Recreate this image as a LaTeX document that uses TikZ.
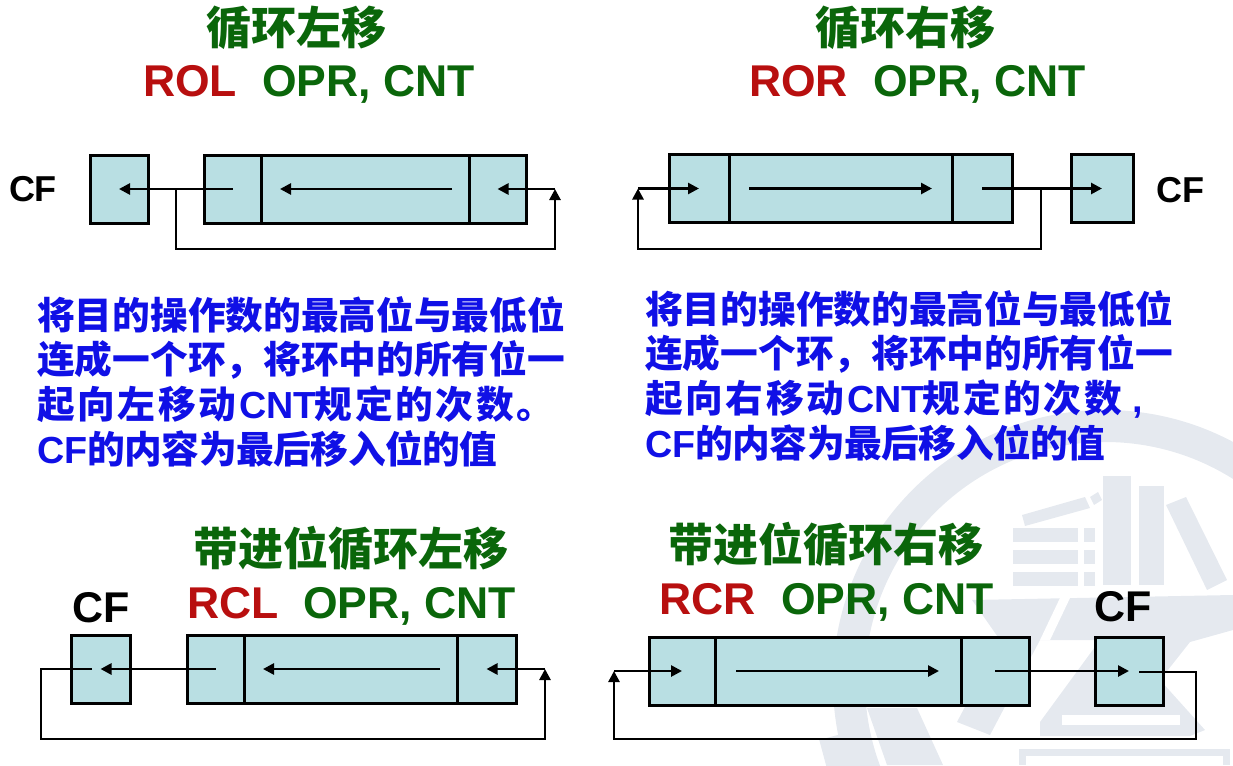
\documentclass[tikz,border=0pt]{standalone}
\usepackage{fontspec}
\setmainfont{Liberation Sans}
\newfontfamily\cjk{Noto Sans CJK SC}
\usetikzlibrary{arrows.meta}
\definecolor{cellfill}{HTML}{B9DFE3}
\definecolor{markgray}{HTML}{E5E9EF}
\definecolor{cmdred}{HTML}{B80F0F}
\definecolor{cmdgreen}{HTML}{0A660A}
\definecolor{descblue}{HTML}{1010E6}
\newcommand\widecjk[1]{{\addfontfeature{LetterSpace=7}#1}}
\newcommand\tightcjk[1]{{\addfontfeature{LetterSpace=-1.2}#1}}
\tikzset{
	cell/.style={draw=black,fill=cellfill,line width=3pt,inner sep=0pt,minimum height=68pt},
	flow/.style={line width=2.6pt,line join=miter},
	title/.style={font=\cjk\bfseries\fontsize{45}{48}\selectfont,text=cmdgreen,inner sep=0pt},
	opname/.style={font=\bfseries\fontsize{44.5}{50}\selectfont,text=cmdred,anchor=base west,inner sep=0pt},
	oprand/.style={font=\bfseries\fontsize{44.5}{50}\selectfont,text=cmdgreen,anchor=base west,inner sep=0pt},
	cflabel/.style={font=\bfseries\fontsize{36}{42}\selectfont,inner sep=0pt},
	cfbig/.style={font=\bfseries\fontsize{43}{46}\selectfont,inner sep=0pt},
	desc/.style={font=\cjk\bfseries\fontsize{37.7}{44.7}\selectfont,text=descblue,anchor=north west,align=left,inner sep=0pt},
}
\begin{document}
\begin{tikzpicture}[x=1pt,y=-1pt,line cap=butt,>={Triangle[length=11pt,width=11pt]}]
	\useasboundingbox (0,0) rectangle (1233,765);
	% watermark
	\fill[markgray,even odd rule] (1105,682) circle (272) (1105,682) circle (240);
	\foreach \a in {-165,-135,-105,-75,-45}
	\fill[markgray,rotate around={\a:(1105,682)}] (1372,664) rectangle (1396,700);
	\foreach \y in {528,550,572}{
	\fill[markgray] (1013,\y) rectangle (1078,\y+14);
	\fill[markgray] (1084,\y) rectangle (1095,\y+14);
	}
	\fill[markgray] (1103,476) rectangle (1131,585);
	\fill[markgray] (1139,486) rectangle (1164,585);
	\fill[markgray] (1166,505) -- (1186,497) -- (1227,580) -- (1207,590) -- cycle;
	\fill[markgray] (1022,515) -- (1085,497) -- (1090,508) -- (1025,526) -- cycle;
	\fill[markgray] (1090,497) -- (1098,492) -- (1102,500) -- (1094,505) -- cycle;
	\fill[markgray] (972,600) -- (1233,595) -- (1233,630) -- (1190,642) -- (1160,680) -- (1205,730) -- (1190,736) -- (1040,736) -- (1040,722) -- (1100,640) -- (1040,640) -- (990,735) -- (957,722) -- (1000,640) -- cycle;
	\fill[markgray] (867,708) -- (917,708) -- (943,765) -- (887,765) -- cycle;
	\draw[markgray,line width=7pt] (1022,765) -- (1022,752) -- (1226,752) -- (1226,765);
	\fill[white] (1062,715) rectangle (1180,725);
	\fill[white] (1040,640) -- (1060,598) -- (1070,598) -- (1050,640) -- cycle;
	% ROL
	\node[title] (titlea) at (296,28) {循环左移};
	\node[opname] (opa) at (143,97) {ROL};
	\node[oprand] (oprla) at (262,97) {OPR, CNT};
	\node[cflabel] (cflabela) at (33,189) {CF};
	\node[cell,minimum width=58pt] (cfa) at (119,189) {};
	\node[cell,minimum width=57pt] (lowa) at (232.5,189) {};
	\node[cell,minimum width=208pt] (mida) at (365,189) {};
	\node[cell,minimum width=57pt] (higha) at (497.5,189) {};
	\coordinate (mra) at (452,189);
	\coordinate (mla) at (280,189);
	\coordinate (ta) at (176,189);
	\coordinate (ba) at (555,249);
	\coordinate (ra) at (555,189);
	\draw[flow,->] (lowa.center) -- (cfa.center);
	\draw[flow,->] (mra) -- (mla);
	\draw[flow,->] (ra) -- (higha.center);
	\draw[flow,->] (ta) |- (ba) -- (ra);
	\node[desc] (desca) at (37,296) {将目的操作数的最高位与最低位\\连成一个环，将环中的所有位一\\\widecjk{起向左移动}\hspace{3pt}{\rmfamily CNT}\hspace{-2pt}\widecjk{规定的次数。}\\{\rmfamily CF}\tightcjk{的内容为最后移入位的值}};
	% ROR
	\node[title] (titleb) at (905,28) {循环右移};
	\node[opname] (opb) at (749,97) {ROR};
	\node[oprand] (oprlb) at (873,97) {OPR, CNT};
	\node[cflabel] (cflabelb) at (1180,190) {CF};
	\node[cell,minimum width=60pt] (highb) at (699,188.5) {};
	\node[cell,minimum width=223pt] (midb) at (840.5,188.5) {};
	\node[cell,minimum width=60pt] (lowb) at (982,188.5) {};
	\node[cell,minimum width=62pt] (cfb) at (1102,188.5) {};
	\coordinate (lb) at (638,188.5);
	\coordinate (bb) at (638,249);
	\coordinate (tb) at (1041,188.5);
	\coordinate (mlb) at (749,188.5);
	\coordinate (mrb) at (932,188.5);
	\draw[flow,->] (lb) -- (highb.center);
	\draw[flow,->] (mlb) -- (mrb);
	\draw[flow,->] (lowb.center) -- (cfb.center);
	\draw[flow,->] (tb) |- (bb) -- (lb);
	\node[desc] (descb) at (645,290) {将目的操作数的最高位与最低位\\连成一个环，将环中的所有位一\\\widecjk{起向右移动}\hspace{3pt}{\rmfamily CNT}\hspace{-2pt}\widecjk{规定的次数}{\rmfamily\ ,}\\{\rmfamily CF}\tightcjk{的内容为最后移入位的值}};
	% RCL
	\node[title] (titlec) at (351,548) {带进位循环左移};
	\node[opname] (opc) at (187,618) {RCL};
	\node[oprand] (oprlc) at (303,618) {OPR, CNT};
	\node[cfbig] (cflabelc) at (101,608) {CF};
	\node[cell,minimum width=59pt] (cfc) at (100.5,669) {};
	\node[cell,minimum width=57pt] (lowc) at (215.5,669) {};
	\node[cell,minimum width=213pt] (midc) at (350.5,669) {};
	\node[cell,minimum width=59pt] (highc) at (486.5,669) {};
	\coordinate (sc) at (92,669);
	\coordinate (lc) at (41,669);
	\coordinate (bc) at (41,739);
	\coordinate (rc) at (545,669);
	\coordinate (mrc) at (440,669);
	\coordinate (mlc) at (263,669);
	\draw[flow,->] (lowc.center) -- (cfc.center);
	\draw[flow,->] (mrc) -- (mlc);
	\draw[flow,->] (rc) -- (highc.center);
	\draw[flow,->] (sc) -- (lc) -- (bc) -| (rc);
	% RCR
	\node[title] (titled) at (826,544) {带进位循环右移};
	\node[opname] (opd) at (659,614) {RCR};
	\node[oprand] (oprld) at (781,614) {OPR, CNT};
	\node[cfbig] (cflabeld) at (1123,607) {CF};
	\node[cell,minimum width=66pt] (highd) at (682,671) {};
	\node[cell,minimum width=246pt] (midd) at (838,671) {};
	\node[cell,minimum width=68pt] (lowd) at (995,671) {};
	\node[cell,minimum width=68pt] (cfd) at (1129,671) {};
	\coordinate (ld) at (614,671);
	\coordinate (bd) at (614,739);
	\coordinate (rd) at (1196,672);
	\coordinate (sd) at (1139,672);
	\coordinate (mld) at (736,671);
	\coordinate (mrd) at (939,671);
	\draw[flow,->] (ld) -- (highd.center);
	\draw[flow,->] (mld) -- (mrd);
	\draw[flow,->] (lowd.center) -- (cfd.center);
	\draw[flow,->] (sd) -- (rd) |- (bd) -- (ld);
\end{tikzpicture}
\end{document}
